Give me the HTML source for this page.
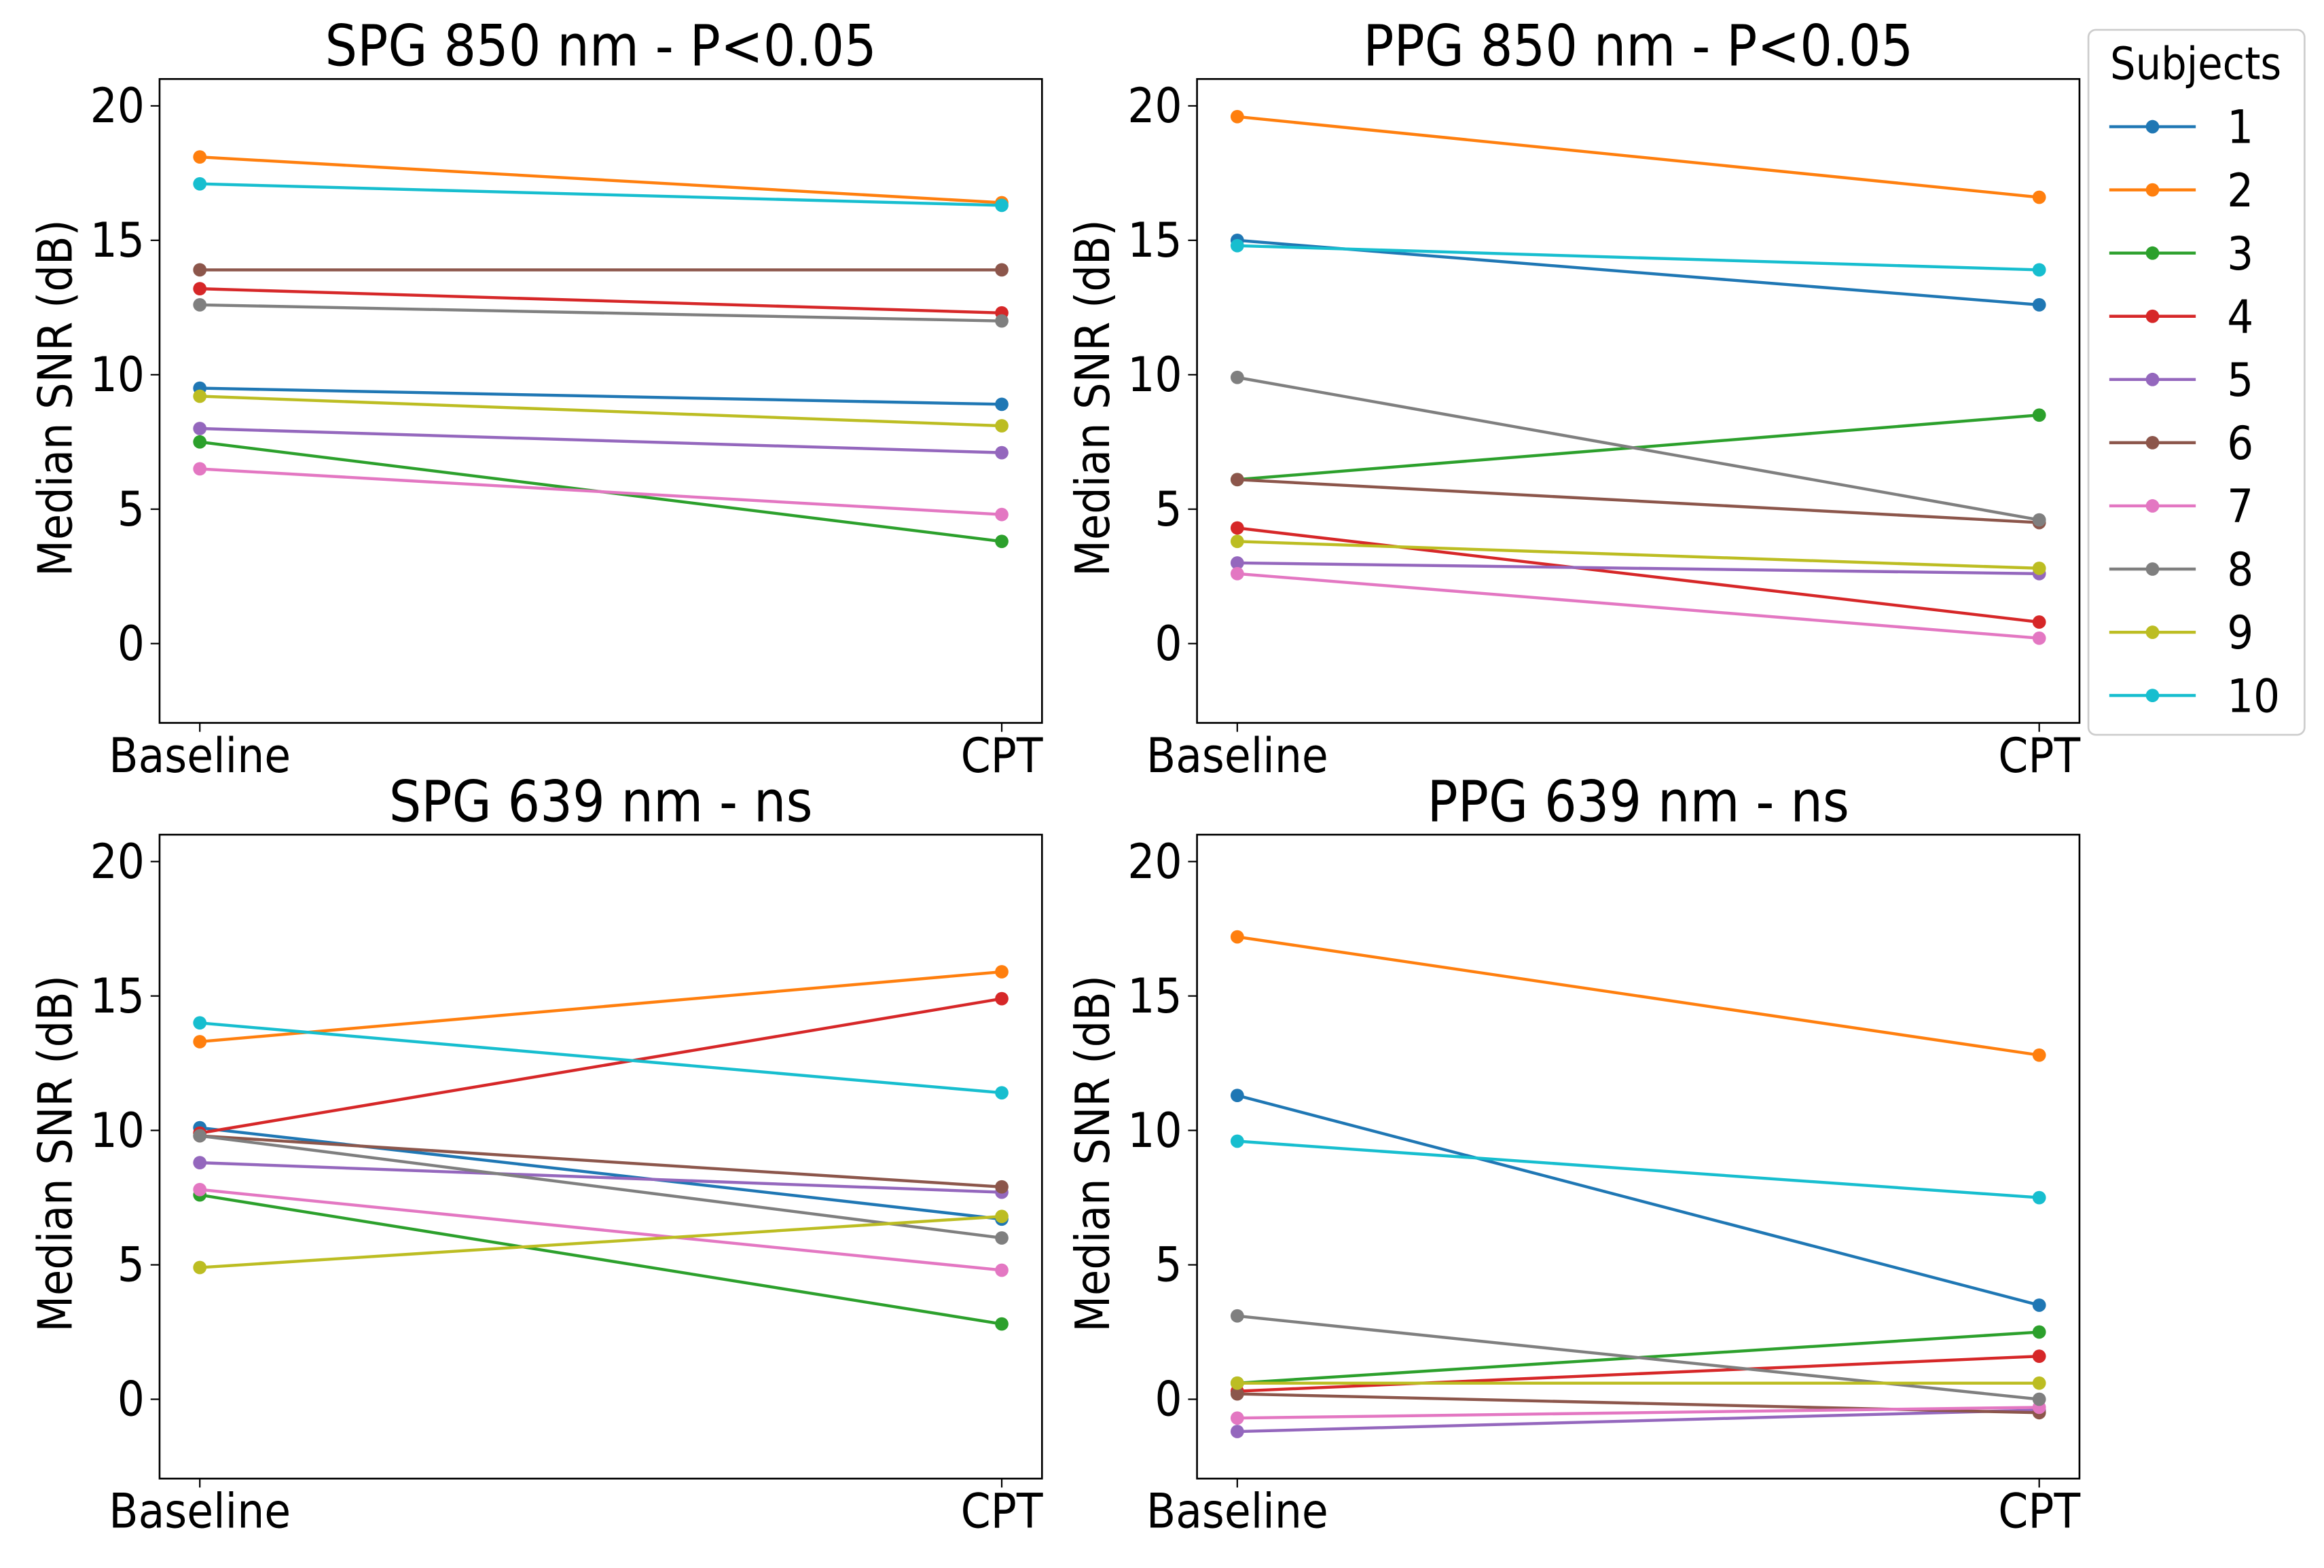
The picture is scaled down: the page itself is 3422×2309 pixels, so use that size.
<!DOCTYPE html>
<html><head><meta charset="utf-8"><style>
html,body{margin:0;padding:0;background:#fff;}
svg{display:block;font-family:"DejaVu Sans Condensed","DejaVu Sans","Liberation Sans Narrow","Liberation Sans",sans-serif;font-stretch:condensed;}
</style></head><body>
<svg id="chart" width="3422" height="2309" viewBox="0 0 1559 1052"></svg>
<script>
const subjects = ['1','2','3','4','5','6','7','8','9','10'];
const colors = ['#1f77b4','#ff7f0e','#2ca02c','#d62728','#9467bd','#8c564b','#e377c2','#7f7f7f','#bcbd22','#17becf'];
const categories = ['Baseline','CPT'];
const yTicks = [0,5,10,15,20];
const titles = ['SPG 850 nm - P<0.05','PPG 850 nm - P<0.05','SPG 639 nm - ns','PPG 639 nm - ns'];
const spg850 = [[9.5,8.9],[18.1,16.4],[7.5,3.8],[13.2,12.3],[8.0,7.1],[13.9,13.9],[6.5,4.8],[12.6,12.0],[9.2,8.1],[17.1,16.3]];
const ppg850 = [[15.0,12.6],[19.6,16.6],[6.1,8.5],[4.3,0.8],[3.0,2.6],[6.1,4.5],[2.6,0.2],[9.9,4.6],[3.8,2.8],[14.8,13.9]];
const spg639 = [[10.1,6.7],[13.3,15.9],[7.6,2.8],[9.9,14.9],[8.8,7.7],[9.8,7.9],[7.8,4.8],[9.8,6.0],[4.9,6.8],[14.0,11.4]];
const ppg639 = [[11.3,3.5],[17.2,12.8],[0.6,2.5],[0.3,1.6],[-1.2,-0.4],[0.2,-0.5],[-0.7,-0.3],[3.1,0.0],[0.6,0.6],[9.6,7.5]];
const panelData = [spg850, ppg850, spg639, ppg639];
const panelNames = ['spg-850','ppg-850','spg-639','ppg-639'];

const NS='http://www.w3.org/2000/svg';
const svg=document.getElementById('chart');
function mk(tag,attrs,parent,text){const e=document.createElementNS(NS,tag);for(const k in attrs)e.setAttribute(k,attrs[k]);if(text!==undefined)e.textContent=text;(parent||svg).appendChild(e);return e;}

const boxes=[{x:107,y:53},{x:803,y:53},{x:107,y:560},{x:803,y:560}];
const W=592,H=432,yMin=-2.95,yMax=21.0;
panelData.forEach((data,p)=>{
  const b=boxes[p];
  const g=mk('g',{});
  
  
  const ys=v=>b.y+H-(v-yMin)/(yMax-yMin)*H;
  const xs=i=>b.x+27+i*(W-54);
  const t=mk('text',{x:b.x+W/2,y:b.y-9,'text-anchor':'middle','font-size':38},g,titles[p]);
  
  
  yTicks.forEach(v=>{
    mk('line',{x1:b.x-6,x2:b.x,y1:ys(v),y2:ys(v),stroke:'#000','stroke-width':1},g);
    const tl=mk('text',{x:b.x-10,y:ys(v)+11,'text-anchor':'end','font-size':32},g,String(v));
    
    
  });
  categories.forEach((c,i)=>{
    mk('line',{x1:xs(i),x2:xs(i),y1:b.y+H,y2:b.y+H+6,stroke:'#000','stroke-width':1},g);
    const xl=mk('text',{x:xs(i),y:b.y+H+33,'text-anchor':'middle','font-size':32},g,c);
    
    
  });
  const yl=mk('text',{x:0,y:0,transform:`translate(${b.x-59},${b.y+H/2-2}) rotate(-90)`,'text-anchor':'middle','font-size':31.5},g,'Median SNR (dB)');
  
  
  data.forEach((d,s)=>{
    const pl=mk('polyline',{points:d.map((v,i)=>xs(i)+','+ys(v)).join(' '),fill:'none',stroke:colors[s],'stroke-width':2},g);
    
    
    d.forEach((v,i)=>{
      const c=mk('circle',{cx:xs(i),cy:ys(v),r:4.5,fill:colors[s]},g);
      
      
    });
  });
  const r=mk('rect',{x:b.x,y:b.y,width:W,height:H,fill:'none',stroke:'#000','stroke-width':1.2},g);
  
  
});
const lg=mk('g',{});


mk('rect',{x:1401,y:20,width:145,height:473,rx:5,fill:'#fff',stroke:'#ccc','stroke-width':1.2},lg);
const lt=mk('text',{x:1473,y:53,'text-anchor':'middle','font-size':30},lg,'Subjects');


subjects.forEach((s,i)=>{
  const y=85+i*42.4;
  const e=mk('g',{},lg);
  
  
  mk('line',{x1:1415,x2:1473,y1:y,y2:y,stroke:colors[i],'stroke-width':2},e);
  mk('circle',{cx:1444,cy:y,r:4.5,fill:colors[i]},e);
  mk('text',{x:1494,y:y+11,'font-size':31},e,s);
});
</script>
</body></html>
